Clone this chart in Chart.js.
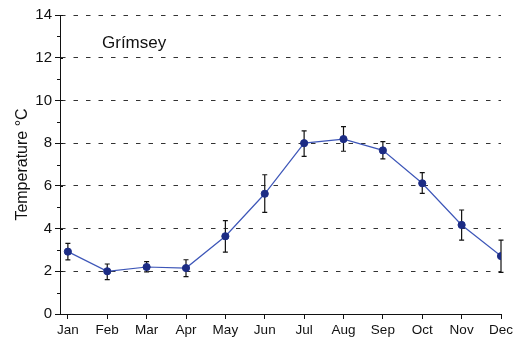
<!DOCTYPE html>
<html>
<head>
<meta charset="utf-8">
<script src="https://cdn.jsdelivr.net/npm/chart.js@4/dist/chart.umd.min.js"></script>
<style>
  html, body { margin: 0; padding: 0; background: #fff; }
  #wrap { width: 526px; height: 341px; }
</style>
</head>
<body>
<div id="wrap"><canvas id="temp" width="526" height="341"></canvas></div>
<script>
// monthly mean temperature, Grímsey
const months = ['Jan','Feb','Mar','Apr','May','Jun','Jul','Aug','Sep','Oct','Nov','Dec'];
const temps    = [2.92, 2.00, 2.20, 2.15, 3.64, 5.63, 8.00, 8.19, 7.66, 6.12, 4.17, 2.71];
const errHigh  = [3.31, 2.34, 2.45, 2.54, 4.37, 6.52, 8.57, 8.77, 8.07, 6.62, 4.87, 3.46];
const errLow   = [2.53, 1.61, 1.97, 1.75, 2.90, 4.76, 7.38, 7.62, 7.26, 5.65, 3.46, 1.95];
const yMajorTicks = [0, 2, 4, 6, 8, 10, 12, 14];
const yMinorTicks = [1, 3, 5, 7, 9, 11, 13];
const stationName = 'Grímsey';

const FONT = 'Arial, "Liberation Sans", Helvetica, sans-serif';
const INK = '#111';

// vertical error bars with small caps, drawn under the points
const errorBars = {
  id: 'errorBars',
  beforeDatasetsDraw(chart) {
    const { ctx, scales: { x, y } } = chart;
    ctx.save();
    ctx.strokeStyle = INK;
    ctx.lineWidth = 1.2;
    temps.forEach((t, i) => {
      const px = x.getPixelForValue(i);
      const top = y.getPixelForValue(errHigh[i]);
      const bot = y.getPixelForValue(errLow[i]);
      ctx.beginPath();
      ctx.moveTo(px, top); ctx.lineTo(px, bot);
      ctx.moveTo(px - 2.5, top); ctx.lineTo(px + 2.5, top);
      ctx.moveTo(px - 2.5, bot); ctx.lineTo(px + 2.5, bot);
      ctx.stroke();
    });
    ctx.restore();
  }
};

// minor ticks, inner stubs of major ticks on the y axis + station name
const extras = {
  id: 'extras',
  afterDraw(chart) {
    const { ctx, chartArea, scales: { y } } = chart;
    const left = chartArea.left;
    ctx.save();
    ctx.strokeStyle = INK;
    ctx.lineWidth = 1;
    ctx.beginPath();
    yMinorTicks.forEach(v => {
      const py = Math.round(y.getPixelForValue(v)) + 0.5;
      ctx.moveTo(left - 3, py);
      ctx.lineTo(left, py);
    });
    yMajorTicks.forEach(v => {
      const py = Math.round(y.getPixelForValue(v)) + 0.5;
      ctx.moveTo(left, py);
      ctx.lineTo(left + 3, py);
    });
    ctx.stroke();
    ctx.fillStyle = INK;
    ctx.font = '17px ' + FONT;
    ctx.textBaseline = 'alphabetic';
    ctx.fillText(stationName, left + 42, chartArea.top + 33);
    ctx.restore();
  }
};

new Chart(document.getElementById('temp'), {
  type: 'line',
  data: {
    datasets: [{
      data: temps.map((t, i) => ({ x: i, y: t })),
      borderColor: '#3d56b8',
      borderWidth: 1.2,
      pointRadius: 3.6,
      pointBackgroundColor: '#1c2c85',
      pointBorderColor: '#1c2c85',
      pointBorderWidth: 1,
      tension: 0,
      fill: false
    }]
  },
  options: {
    responsive: false,
    animation: false,
    layout: { padding: { top: 15, right: 25, left: 0, bottom: 0 } },
    plugins: { legend: { display: false }, tooltip: { enabled: false } },
    scales: {
      x: {
        type: 'linear',
        min: -0.2,
        max: 11,
        afterFit: s => { s.height = 27; },
        grid: { drawOnChartArea: false, drawTicks: true, tickLength: 5, color: INK },
        border: { color: INK, width: 1 },
        ticks: {
          stepSize: 1,
          includeBounds: false,
          autoSkip: false,
          maxRotation: 0,
          padding: 3,
          color: INK,
          font: { family: FONT, size: 13.5 },
          callback: v => months[v] ?? ''
        }
      },
      y: {
        min: 0,
        max: 14,
        afterFit: s => { s.width = 60; },
        grid: { color: '#333', lineWidth: 1, tickLength: 5, tickColor: INK },
        border: { color: INK, width: 1, dash: [4.5, 8] },
        ticks: {
          stepSize: 2,
          padding: 3,
          color: INK,
          font: { family: FONT, size: 15 }
        },
        title: {
          display: true,
          text: 'Temperature °C',
          color: INK,
          font: { family: FONT, size: 16 },
          padding: { top: 13, bottom: 0 }
        }
      }
    }
  },
  plugins: [errorBars, extras]
});
</script>
</body>
</html>
